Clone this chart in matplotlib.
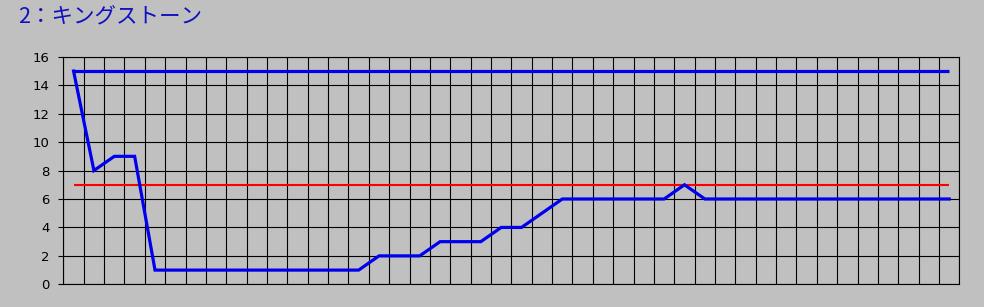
import numpy as np
import matplotlib
matplotlib.use('Agg')
import matplotlib.pyplot as plt

plt.rcParams['font.family'] = ['Noto Sans CJK JP', 'DejaVu Sans']

title = '2：キングストーン'
# one value per race (44 races)
rank = [15, 8, 9, 9, 1, 1, 1, 1, 1, 1, 1, 1, 1, 1, 1, 2, 2, 2, 3, 3, 3, 4,
        4, 5, 6, 6, 6, 6, 6, 6, 7, 6, 6, 6, 6, 6, 6, 6, 6, 6, 6, 6, 6, 6]
upper = [15] * 44
middle = [7] * 44
yticks = [0, 2, 4, 6, 8, 10, 12, 14, 16]

x = np.arange(len(rank))
bg = '#c0c0c0'

fig = plt.figure(figsize=(9.84, 3.07), dpi=100, facecolor=bg)
ax = fig.add_axes([0.0644, 0.0739, 0.9106, 0.7411], facecolor=bg)

ax.plot(x, upper, color='#0000ee', lw=2.3, solid_capstyle='butt')
ax.plot(x, middle, color='#ff0000', lw=1.5, solid_capstyle='butt')
ax.plot(x, rank, color='#0000ee', lw=2.3, solid_joinstyle='miter')

ax.set_xlim(-0.5, len(rank) - 0.5)
ax.set_ylim(0, 16)
ax.set_yticks(yticks)
ax.set_yticklabels([str(v) for v in yticks], family='DejaVu Sans', fontsize=9.5)
ax.set_xticks(np.arange(-0.5, len(rank)))
ax.set_xticklabels([])
ax.tick_params(axis='x', length=0)
ax.tick_params(axis='y', length=3.6, width=0.8, pad=6.5)
ax.grid(True, color='black', lw=0.8)
ax.set_axisbelow(True)
for s in ax.spines.values():
    s.set_linewidth(0.8)
    s.set_color('black')

fig.text(0.018, 0.945, title, color='#1010c0', fontsize=15.5, va='center', ha='left')

fig.savefig('out.png', dpi=100, facecolor=bg)
